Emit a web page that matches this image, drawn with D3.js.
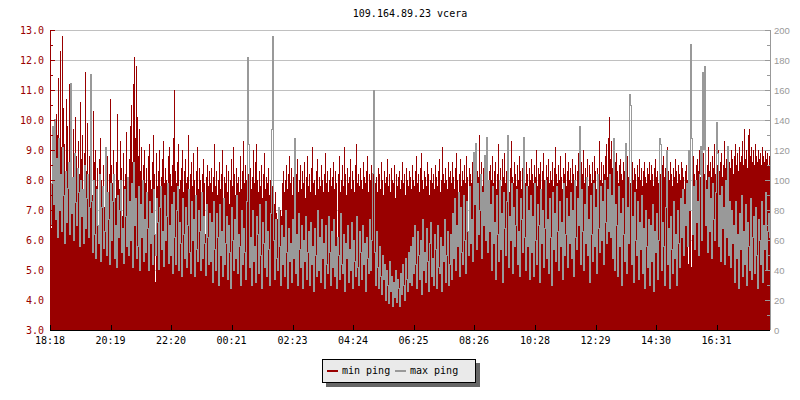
<!DOCTYPE html>
<html>
<head>
<meta charset="utf-8">
<script src="https://d3js.org/d3.v7.min.js"></script>
<style>
  body { margin: 0; background: #fff; }
  text { font-family: "DejaVu Sans Mono", monospace; }
</style>
</head>
<body>
<div id="chart"></div>
<script>
// min ping (ms, left axis), one sample every 2 minutes from 18:18
var minPing = [
  8.2, 6.4, 8.9, 8.5, 9.6, 8.0, 10.2, 9.5, 11.4, 8.7,
  12.3, 9.1, 12.8, 10.4, 9.2, 8.1, 10.7, 9.8, 8.5, 11.2,
  9.0, 8.6, 7.2, 9.7, 8.4, 10.1, 8.8, 7.9, 9.3, 8.2,
  10.6, 8.7, 9.5, 7.6, 8.9, 11.6, 8.3, 9.9, 7.4, 8.8,
  9.2, 8.1, 7.5, 10.3, 8.6, 9.0, 7.8, 8.4, 5.9, 8.7,
  9.4, 8.0, 7.7, 8.5, 7.1, 9.1, 8.3, 8.8, 7.6, 8.2,
  10.7, 8.5, 7.9, 9.0, 8.1, 7.4, 8.6, 10.2, 8.0, 7.7,
  9.3, 8.4, 6.8, 8.9, 7.8, 8.2, 9.6, 8.0, 7.5, 8.7,
  9.8, 10.5, 8.6, 11.2, 12.1, 9.4, 11.8, 10.1, 8.8, 9.7,
  8.3, 9.1, 7.6, 8.5, 9.0, 7.9, 8.4, 6.9, 8.8, 9.2,
  8.0, 7.7, 8.6, 9.5, 8.2, 4.6, 8.9, 7.8, 8.3, 9.0,
  7.5, 8.1, 8.7, 9.3, 7.9, 8.4, 8.0, 7.6, 8.8, 9.1,
  8.2, 7.8, 8.5, 9.4, 11.0, 8.3, 7.9, 8.6, 9.2, 7.7,
  8.0, 8.4, 9.0, 7.6, 8.3, 8.7, 7.9, 8.1, 9.5, 7.4,
  8.2, 8.6, 7.8, 8.9, 8.0, 7.5, 8.3, 9.1, 7.7, 8.4,
  8.0, 7.6, 8.2, 8.7, 7.9, 6.2, 8.1, 8.5, 7.8, 8.3,
  7.9, 8.4, 7.6, 8.1, 9.2, 7.8, 8.3, 7.5, 8.0, 8.6,
  7.7, 8.2, 9.0, 7.4, 8.1, 7.9, 8.5, 7.6, 8.3, 7.2,
  8.0, 8.7, 7.8, 9.1, 8.2, 7.5, 8.4, 7.9, 8.1, 7.6,
  8.8, 7.7, 8.3, 9.3, 7.9, 8.5, 8.0, 7.6, 8.2, 7.8,
  8.4, 7.7, 8.1, 9.0, 7.9, 8.6, 9.2, 8.0, 7.6, 8.3,
  7.8, 8.5, 7.4, 8.2, 8.9, 7.7, 8.1, 7.9, 8.4, 7.5,
  8.0, 8.6, 7.8, 8.3, 7.2, 7.6, 6.9, 6.7, 6.8, 6.6,
  7.0, 6.8, 7.9, 8.3, 7.6, 8.0, 8.5, 7.7, 8.2, 8.8,
  7.9, 8.4, 7.5, 8.1, 9.3, 7.8, 8.2, 8.7, 7.6, 8.0,
  8.5, 7.7, 8.3, 7.9, 8.6, 7.4, 8.1, 8.8, 7.8, 8.2,
  7.6, 8.4, 9.1, 7.9, 8.0, 7.5, 8.3, 8.7, 7.7, 8.1,
  7.8, 8.5, 8.0, 7.6, 8.2, 8.9, 7.9, 8.3, 7.6, 8.0,
  8.4, 7.8, 8.1, 8.6, 7.7, 8.3, 7.9, 5.9, 8.2, 8.8,
  7.6, 8.0, 8.5, 7.8, 9.1, 8.2, 7.5, 8.4, 7.9, 8.1,
  8.7, 7.7, 8.3, 8.0, 7.6, 8.5, 9.2, 7.9, 8.2, 7.8,
  8.4, 8.0, 7.7, 8.6, 8.1, 7.9, 8.3, 8.8, 7.6, 8.2,
  8.0, 8.5, 7.8, 8.3, 8.9, 7.9, 8.1, 7.6, 8.4, 8.2,
  7.7, 8.6, 8.0, 7.5, 8.3, 7.9, 8.1, 8.7, 7.8, 8.2,
  7.6, 8.4, 8.0, 7.9, 8.5, 7.4, 8.2, 7.8, 8.1, 8.3,
  7.7, 8.0, 8.6, 7.9, 8.2, 7.5, 8.4, 8.0, 7.8, 8.3,
  8.1, 7.7, 8.5, 8.0, 7.8, 8.3, 8.8, 7.9, 8.2, 7.6,
  8.4, 8.9, 8.0, 7.7, 8.3, 8.1, 7.8, 8.6, 8.2, 7.5,
  8.0, 8.4, 7.9, 8.2, 7.7, 8.5, 8.1, 7.8, 8.3, 8.7,
  7.6, 8.0, 9.1, 8.2, 7.9, 8.4, 8.0, 7.7, 8.6, 8.1,
  8.3, 7.9, 8.6, 8.1, 7.7, 8.4, 8.9, 8.0, 7.6, 8.2,
  8.7, 7.8, 8.3, 8.0, 8.5, 7.9, 8.8, 8.1, 5.6, 8.4,
  8.2, 7.9, 8.6, 8.0, 8.4, 7.8, 8.9, 8.3, 8.1, 9.5,
  8.0, 8.6, 7.8, 8.4, 8.2, 7.9, 8.7, 8.1, 7.6, 8.3,
  8.5, 8.0, 8.8, 7.9, 8.3, 8.6, 7.7, 8.2, 9.2, 8.0,
  8.4, 7.8, 8.7, 8.1, 8.9, 7.9, 8.3, 8.5, 8.0, 7.6,
  8.4, 9.3, 8.1, 7.9, 8.6, 8.2, 7.8, 8.5, 8.0, 8.8,
  8.3, 7.7, 8.4, 9.0, 8.1, 7.9, 8.6, 8.2, 7.8, 8.4,
  8.0, 8.7, 8.2, 7.9, 8.5, 8.1, 9.0, 7.8, 8.4, 8.2,
  8.6, 7.7, 8.3, 8.9, 8.0, 7.6, 8.5, 8.1, 8.7, 7.9,
  8.3, 8.0, 8.6, 7.8, 8.4, 9.1, 8.2, 7.9, 8.5, 8.0,
  8.8, 8.1, 7.7, 8.4, 8.2, 8.9, 7.8, 8.3, 8.6, 8.0,
  8.4, 7.9, 8.7, 8.2, 8.0, 8.5, 7.8, 8.3, 8.9, 8.1,
  7.7, 8.6, 8.2, 9.0, 7.9, 8.4, 8.1, 8.7, 7.8, 8.5,
  8.2, 7.9, 8.6, 8.0, 8.8, 8.3, 7.7, 8.4, 8.1, 9.3,
  8.0, 8.6, 7.9, 8.5, 8.2, 8.8, 9.2, 8.1, 9.4, 10.1,
  8.7, 9.3, 8.4, 9.0, 8.1, 8.6, 8.9, 8.3, 7.9, 8.5,
  8.7, 8.2, 8.0, 8.6, 8.3, 7.8, 8.4, 8.8, 8.1, 8.5,
  7.9, 8.3, 8.6, 8.0, 8.4, 8.2, 7.7, 8.5, 8.1, 8.7,
  8.0, 8.4, 7.8, 8.3, 8.6, 8.1, 7.9, 8.4, 8.2, 8.6,
  8.0, 8.5, 8.2, 7.8, 8.4, 8.7, 8.1, 8.3, 7.9, 8.6,
  8.2, 8.0, 8.5, 8.8, 8.1, 8.4, 7.9, 9.1, 8.3, 8.0,
  8.6, 8.2, 7.8, 8.4, 8.1, 8.7, 8.3, 7.9, 8.5, 8.2,
  8.0, 8.6, 8.4, 8.1, 7.7, 8.3, 8.5, 8.0, 5.2, 8.2,
  8.6, 5.1, 8.4, 8.8, 8.2, 7.9, 8.5, 8.7, 8.3, 9.0,
  8.1, 8.6, 8.4, 8.9, 8.2, 8.7, 8.0, 8.5, 9.1, 8.3,
  8.6, 8.1, 8.8, 8.4, 9.2, 8.2, 8.7, 8.5, 9.0, 8.3,
  8.6, 8.9, 8.1, 8.5, 9.3, 8.4, 8.7, 8.2, 8.9, 8.6,
  8.4, 9.0, 8.7, 8.2, 8.8, 9.2, 8.5, 8.9, 8.3, 9.1,
  8.6, 8.8, 9.3, 8.5, 9.7, 8.7, 9.0, 8.4, 9.5, 9.7,
  8.8, 9.1, 8.6, 9.0, 8.5, 9.2, 8.8, 8.6, 9.0, 8.7,
  8.9, 8.5, 9.1, 8.8, 8.6, 9.0, 8.7, 8.9, 8.5, 8.8
];

// max ping (ms, right axis), same sampling
var maxPing = [
  70, 98, 136, 84, 141, 74, 115, 62, 128, 80,
  104, 66, 122, 90, 58, 106, 72, 95, 112, 64,
  165, 78, 102, 60, 118, 85, 70, 108, 92, 56,
  100, 76, 94, 58, 110, 68, 88, 104, 62, 82,
  171, 86, 52, 100, 64, 48, 94, 70, 58, 104,
  46, 82, 96, 55, 66, 122, 50, 92, 74, 44,
  98, 60, 86, 104, 48, 70, 42, 90, 62, 80,
  100, 52, 68, 45, 94, 76, 56, 102, 50, 86,
  60, 98, 42, 112, 70, 88, 48, 56, 96, 40,
  84, 62, 100, 46, 74, 52, 92, 68, 40, 86,
  58, 78, 44, 94, 64, 50, 88, 72, 41, 82,
  96, 54, 66, 43, 90, 60, 76, 98, 45, 70,
  50, 84, 38, 92, 62, 44, 80, 96, 40, 72,
  58, 36, 88, 64, 48, 82, 42, 70, 94, 52,
  38, 86, 60, 74, 36, 90, 54, 46, 80, 66,
  40, 92, 48, 76, 58, 37, 84, 62, 44, 78,
  46, 72, 32, 86, 54, 40, 78, 62, 30, 84,
  50, 66, 36, 88, 44, 58, 76, 34, 70, 52,
  28, 82, 60, 40, 74, 48, 90, 38, 64, 56,
  30, 80, 44, 68, 52, 34, 86, 182, 124, 42,
  62, 30, 80, 46, 56, 32, 76, 64, 38, 84,
  50, 28, 72, 58, 42, 86, 36, 66, 54, 30,
  78, 134, 196, 60, 34, 74, 48, 40, 82, 56,
  30, 70, 44, 62, 36, 80, 52, 28, 68, 46,
  58, 32, 74, 48, 128, 38, 64, 30, 78, 54,
  42, 70, 28, 60, 46, 76, 34, 52, 66, 30,
  72, 44, 56, 26, 68, 50, 36, 80, 40, 62,
  32, 74, 48, 58, 28, 70, 44, 38, 76, 52,
  30, 66, 42, 74, 36, 56, 28, 62, 50, 34,
  78, 44, 38, 64, 26, 58, 48, 70, 32, 54,
  40, 72, 28, 60, 46, 36, 76, 42, 30, 66,
  52, 34, 70, 44, 58, 26, 62, 48, 38, 74,
  40, 60, 105, 160, 52, 30, 66, 42, 28, 56,
  36, 24, 50, 34, 44, 20, 40, 30, 18, 46,
  26, 36, 16, 32, 22, 40, 19, 34, 28, 16,
  38, 24, 44, 30, 20, 48, 34, 26, 52, 32,
  56, 30, 62, 38, 70, 44, 28, 66, 50, 34,
  60, 24, 74, 40, 52, 32, 68, 46, 26, 58,
  72, 36, 48, 30, 64, 54, 28, 70, 42, 38,
  62, 26, 56, 46, 74, 32, 50, 66, 30, 44,
  64, 34, 78, 48, 88, 40, 70, 56, 92, 36,
  82, 52, 44, 90, 60, 38, 86, 66, 50, 96,
  58, 74, 46, 119, 84, 125, 54, 98, 64, 80,
  104, 48, 92, 70, 117, 60, 129, 52, 100, 66,
  84, 40, 96, 58, 72, 34, 90, 64, 46, 100,
  54, 78, 32, 92, 68, 50, 86, 130, 42, 76,
  60, 98, 38, 82, 56, 70, 94, 44, 66, 36,
  88, 74, 52, 129, 62, 40, 96, 56, 80, 34,
  90, 52, 76, 36, 98, 60, 44, 84, 70, 32,
  94, 58, 80, 42, 68, 100, 48, 74, 38, 88,
  62, 30, 92, 54, 78, 46, 96, 66, 40, 86,
  56, 72, 34, 98, 50, 64, 88, 42, 76, 58,
  92, 48, 80, 36, 100, 62, 54, 88, 70, 136,
  44, 94, 66, 40, 84, 58, 102, 50, 74, 32,
  90, 64, 46, 98, 56, 82, 38, 104, 68, 52,
  96, 60, 86, 44, 100, 72, 58, 94, 66, 104,
  62, 90, 48, 128, 40, 84, 70, 36, 96, 56,
  78, 30, 88, 64, 46, 125, 38, 82, 58, 157,
  150, 44, 76, 32, 92, 60, 50, 86, 34, 72,
  54, 90, 38, 68, 28, 80, 56, 42, 74, 30,
  70, 46, 84, 26, 66, 52, 78, 34, 60, 128,
  124, 40, 72, 56, 30, 82, 120, 44, 68, 28,
  76, 54, 38, 86, 48, 64, 30, 80, 58, 42,
  88, 62, 94, 50, 84, 70, 98, 56, 120, 80,
  191, 128, 64, 96, 54, 100, 72, 86, 50, 104,
  123, 60, 172, 121, 176, 70, 94, 52, 102, 66,
  88, 48, 98, 74, 60, 92, 139, 118, 56, 90,
  46, 96, 68, 82, 44, 100, 62, 123, 50, 86,
  42, 80, 58, 70, 32, 86, 48, 64, 28, 78,
  54, 90, 36, 66, 44, 84, 30, 72, 56, 40,
  88, 34, 62, 76, 38, 82, 50, 28, 74, 60,
  44, 86, 32, 70, 54, 92, 40, 66, 78, 62
];

var tickLabels = ["18:18", "20:19", "22:20", "00:21", "02:23", "04:24",
                  "06:25", "08:26", "10:28", "12:29", "14:30", "16:31"];
var leftTicks = [3, 4, 5, 6, 7, 8, 9, 10, 11, 12, 13];
var rightTicks = [0, 20, 40, 60, 80, 100, 120, 140, 160, 180, 200];
var seriesNames = ["min ping", "max ping"];

var RED = "#990000", GRAY = "#999999";
var W = 800, H = 400;
var margin = {top: 30, right: 30, bottom: 70, left: 50};

var start = new Date(2000, 0, 1, 18, 18);
var end = d3.timeMinute.offset(start, 1440);
var times = minPing.map(function(d, i) { return d3.timeMinute.offset(start, i * 2); });

var x = d3.scaleTime().domain([start, end]).range([margin.left, W - margin.right]);
var yL = d3.scaleLinear().domain([3, 13]).range([H - margin.bottom, margin.top]);
var yR = d3.scaleLinear().domain([0, 200]).range([H - margin.bottom, margin.top]);
function px(i) { return Math.round(x(times[i])); }

var svg = d3.select("#chart").append("svg")
  .attr("width", W).attr("height", H)
  .style("background", "#fff");

// title
svg.append("text")
  .attr("x", (margin.left + W - margin.right) / 2).attr("y", 17)
  .attr("text-anchor", "middle")
  .style("font-size", "10px")
  .text("109.164.89.23 vcera");

// gridlines (behind data)
svg.append("g").attr("shape-rendering", "crispEdges")
  .selectAll("line")
  .data(leftTicks).enter().append("line")
  .attr("x1", margin.left).attr("x2", W - margin.right)
  .attr("y1", function(d) { return Math.round(yL(d)) + 0.5; })
  .attr("y2", function(d) { return Math.round(yL(d)) + 0.5; })
  .attr("stroke", "#c0c0c0");

// min ping bars
svg.append("g").attr("shape-rendering", "crispEdges")
  .selectAll("rect")
  .data(minPing).enter().append("rect")
  .attr("x", function(d, i) { return px(i); })
  .attr("width", 1)
  .attr("y", function(d) { return Math.round(yL(d)); })
  .attr("height", function(d) { return yL(3) - Math.round(yL(d)); })
  .attr("fill", RED);

// max ping line, drawn as pixel-sharp vertical runs: each column joins the
// previous sample to the current one
function colSpan(d, i) {
  var a = Math.round(yR(d));
  var p = i > 0 ? Math.round(yR(maxPing[i - 1])) : a;
  return [Math.min(a, p), Math.max(a, p)];
}
svg.append("g").attr("shape-rendering", "crispEdges")
  .selectAll("rect")
  .data(maxPing).enter().append("rect")
  .attr("x", function(d, i) { return px(i); })
  .attr("width", 1)
  .attr("y", function(d, i) { return colSpan(d, i)[0]; })
  .attr("height", function(d, i) { var s = colSpan(d, i); return s[1] - s[0] + 1; })
  .attr("fill", GRAY);

// left axis
var gl = svg.append("g").attr("shape-rendering", "crispEdges");
gl.append("line")
  .attr("x1", margin.left + 0.5).attr("x2", margin.left + 0.5)
  .attr("y1", margin.top).attr("y2", H - margin.bottom)
  .attr("stroke", RED);
gl.selectAll(".maj").data(leftTicks).enter().append("line")
  .attr("x1", margin.left).attr("x2", margin.left + 5)
  .attr("y1", function(d) { return Math.round(yL(d)) + 0.5; })
  .attr("y2", function(d) { return Math.round(yL(d)) + 0.5; })
  .attr("stroke", RED);
gl.selectAll(".min").data(leftTicks.slice(1)).enter().append("line")
  .attr("x1", margin.left).attr("x2", margin.left + 3)
  .attr("y1", function(d) { return Math.round(yL(d - 0.5)) + 0.5; })
  .attr("y2", function(d) { return Math.round(yL(d - 0.5)) + 0.5; })
  .attr("stroke", RED);
gl.selectAll("text").data(leftTicks).enter().append("text")
  .attr("x", margin.left - 6)
  .attr("y", function(d) { return yL(d) + 4; })
  .attr("text-anchor", "end")
  .style("font-size", "10px")
  .attr("fill", RED)
  .text(function(d) { return d3.format(".1f")(d); });

// right axis
var rx = W - margin.right;
var gr = svg.append("g").attr("shape-rendering", "crispEdges");
gr.append("line")
  .attr("x1", rx + 0.5).attr("x2", rx + 0.5)
  .attr("y1", margin.top).attr("y2", H - margin.bottom)
  .attr("stroke", GRAY);
gr.selectAll(".maj").data(rightTicks).enter().append("line")
  .attr("x1", rx - 5).attr("x2", rx)
  .attr("y1", function(d) { return Math.round(yR(d)) + 0.5; })
  .attr("y2", function(d) { return Math.round(yR(d)) + 0.5; })
  .attr("stroke", GRAY);
gr.selectAll(".min").data(rightTicks.slice(1)).enter().append("line")
  .attr("x1", rx - 3).attr("x2", rx)
  .attr("y1", function(d) { return Math.round(yR(d - 10)) + 0.5; })
  .attr("y2", function(d) { return Math.round(yR(d - 10)) + 0.5; })
  .attr("stroke", GRAY);
gr.selectAll("text").data(rightTicks).enter().append("text")
  .attr("x", rx + 4)
  .attr("y", function(d) { return yR(d) + 4; })
  .style("font-family", "'Liberation Sans', sans-serif")
  .style("font-size", "9.5px")
  .attr("fill", GRAY)
  .text(function(d) { return d; });

// bottom axis
function labelTime(s) {
  var p = s.split(":").map(Number);
  var t = new Date(2000, 0, 1, p[0], p[1]);
  if (t < start) t = d3.timeDay.offset(t, 1);
  return t;
}
var by = H - margin.bottom;
var gb = svg.append("g").attr("shape-rendering", "crispEdges");
gb.append("line")
  .attr("x1", margin.left).attr("x2", W - margin.right)
  .attr("y1", by + 0.5).attr("y2", by + 0.5)
  .attr("stroke", "#000");
gb.selectAll("line.t").data(tickLabels).enter().append("line")
  .attr("class", "t")
  .attr("x1", function(d) { return Math.round(x(labelTime(d))) + 0.5; })
  .attr("x2", function(d) { return Math.round(x(labelTime(d))) + 0.5; })
  .attr("y1", by - 5).attr("y2", by)
  .attr("stroke", "#000");
gb.selectAll("text").data(tickLabels).enter().append("text")
  .attr("x", function(d) { return x(labelTime(d)); })
  .attr("y", by + 14)
  .attr("text-anchor", "middle")
  .style("font-size", "10px")
  .text(function(d) { return d; });

// legend
var lg = svg.append("g").attr("transform", "translate(322,359)");
lg.append("rect").attr("x", 4).attr("y", 4).attr("width", 154).attr("height", 24)
  .attr("fill", "#666666");
lg.append("rect").attr("x", 0.5).attr("y", 0.5).attr("width", 153).attr("height", 23)
  .attr("fill", "#eaeaea").attr("stroke", "#000").attr("shape-rendering", "crispEdges");
var items = lg.selectAll(".item").data(seriesNames).enter().append("g")
  .attr("transform", function(d, i) { return "translate(" + (5 + i * 68) + ",0)"; });
items.append("rect").attr("x", 0).attr("y", 11).attr("width", 11).attr("height", 2)
  .attr("fill", function(d, i) { return i === 0 ? RED : GRAY; });
items.append("text").attr("x", 15).attr("y", 15)
  .style("font-size", "10px")
  .text(function(d) { return d; });
</script>
</body>
</html>
